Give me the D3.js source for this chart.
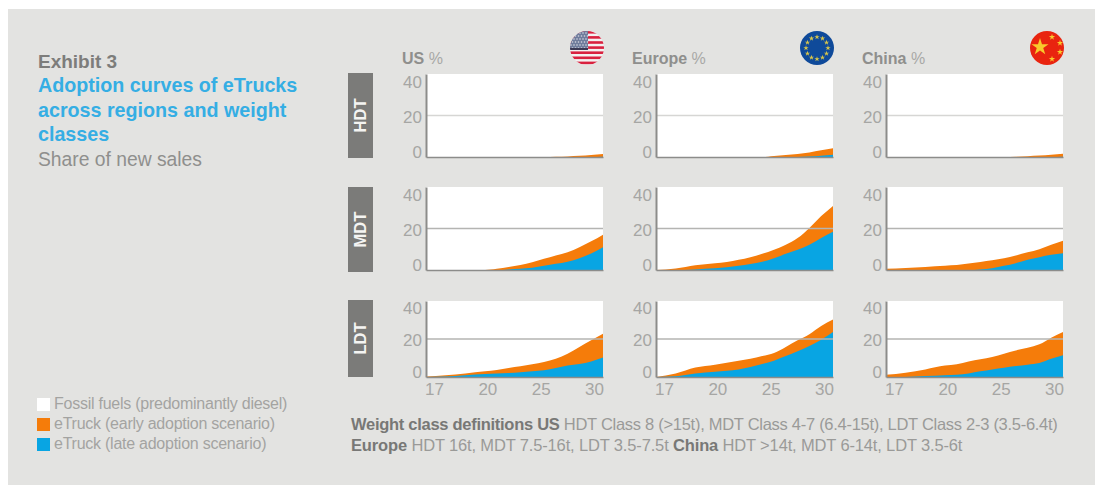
<!DOCTYPE html>
<html>
<head>
<meta charset="utf-8">
<script src="https://cdn.jsdelivr.net/npm/d3@7"></script>
<style>
  html, body { margin: 0; padding: 0; background: #ffffff; }
  svg { display: block; font-family: "Liberation Sans", Arial, sans-serif; }
</style>
</head>
<body>
<svg id="chart" width="1095" height="485"></svg>
<script>
// Sampled years, and the labels shown beneath the bottom row
const years = [17, 18, 19, 20, 21, 22, 23, 24, 25, 26, 27, 28, 29, 30];
const xTickLabels = ["17", "20", "25", "30"];
const yTicks = [0, 20, 40];
const regions = ["US", "Europe", "China"];
const weightClasses = ["HDT", "MDT", "LDT"];

// Share of new sales (%), early adoption scenario
const usHdtEarly = [0, 0, 0, 0, 0, 0, 0, 0, 0, 0.1, 0.3, 0.6, 1, 1.5];
const usMdtEarly = [0, 0, 0, 0, 0.6, 1.5, 2.4, 3.7, 5.4, 7, 8.6, 11, 13.8, 17];
const usLdtEarly = [0.3, 0.9, 1.9, 3, 3.7, 4.7, 5.6, 6.7, 7.9, 9.6, 12.3, 15.8, 19.3, 22.8];
const euHdtEarly = [0, 0, 0, 0, 0, 0, 0, 0, 0.5, 1, 1.5, 2.2, 3.2, 4.2];
const euMdtEarly = [0, 0.7, 2.3, 3.3, 3.9, 4.9, 6.2, 7.8, 9.8, 12.2, 15.4, 20.3, 26, 30.9];
const euLdtEarly = [0, 1.9, 5, 6.5, 7.5, 8.6, 9.6, 11, 12.6, 15.8, 19.3, 22.5, 26.8, 30.2];
const cnHdtEarly = [0, 0, 0, 0, 0, 0, 0, 0, 0, 0.1, 0.4, 0.7, 1.1, 1.6];
const cnMdtEarly = [0.6, 1, 1.5, 2.1, 2.4, 3.1, 3.9, 4.7, 5.7, 7, 8.5, 10, 12.2, 14.1];
const cnLdtEarly = [1.2, 2.3, 4, 6, 6.7, 8.2, 9.3, 10.5, 12.3, 14, 15.4, 17.2, 20.7, 23.7];

// Share of new sales (%), late adoption scenario
const usHdtLate = [0, 0, 0, 0, 0, 0, 0, 0, 0, 0, 0, 0, 0, 0.1];
const usMdtLate = [0, 0, 0, 0, 0, 0.3, 0.6, 1.1, 2, 3, 4, 5.7, 8, 11];
const usLdtLate = [0, 0.2, 0.9, 1.6, 1.8, 2.1, 2.5, 3, 3.5, 4.7, 6.1, 6.8, 8.2, 10.2];
const euHdtLate = [0, 0, 0, 0, 0, 0, 0, 0, 0, 0, 0, 0.2, 0.6, 1.1];
const euMdtLate = [0, 0, 0.3, 0.8, 1.3, 2, 2.9, 4, 5.7, 7.8, 9.8, 12.2, 15.4, 18.4];
const euLdtLate = [0, 0.4, 1.9, 2.8, 3.3, 4, 5.3, 6.8, 8.6, 11, 13.5, 16.3, 19.6, 23.7];
const cnHdtLate = [0, 0, 0, 0, 0, 0, 0, 0, 0, 0, 0, 0, 0, 0.1];
const cnMdtLate = [0, 0, 0, 0, 0, 0, 0.3, 0.8, 2, 3.3, 4.9, 6.2, 7.3, 8.1];
const cnLdtLate = [0, 0, 0.5, 0.9, 1.2, 1.9, 3, 4, 4.9, 5.8, 6.5, 7.4, 9.6, 11.4];

const earlySeries = [
  [usHdtEarly, euHdtEarly, cnHdtEarly],
  [usMdtEarly, euMdtEarly, cnMdtEarly],
  [usLdtEarly, euLdtEarly, cnLdtEarly]
];
const lateSeries = [
  [usHdtLate, euHdtLate, cnHdtLate],
  [usMdtLate, euMdtLate, cnMdtLate],
  [usLdtLate, euLdtLate, cnLdtLate]
];

const legendLabels = [
  "Fossil fuels (predominantly diesel)",
  "eTruck (early adoption scenario)",
  "eTruck (late adoption scenario)"
];

const colors = {
  page: "#e3e3e1", fossil: "#ffffff", early: "#f57c0a", late: "#08a5e3",
  axis: "#8c8c8a", tick: "#a6a6a4", head: "#8f8f8d", tab: "#7b7b79",
  title: "#35aee4", exhibit: "#7d7d7b", sub: "#8f8f8d", legend: "#a3a3a1", note: "#9a9a98", noteBold: "#787876"
};

const svg = d3.select("#chart");
svg.append("rect").attr("x", 8).attr("y", 9).attr("width", 1087).attr("height", 476).attr("fill", colors.page);

// Panel geometry
const colLeft = [426, 656, 886];
const panelW = 177;
const rowBox = [
  { top: 74, bottom: 157, tabTop: 73, tabBottom: 158, labelTop: 82, labelBottom: 152 },
  { top: 187, bottom: 270, tabTop: 187, tabBottom: 272, labelTop: 195, labelBottom: 265 },
  { top: 301, bottom: 377, tabTop: 300, tabBottom: 377, labelTop: 308, labelBottom: 372 }
];

// The time axis is stretched over its first three years
const x = d3.scaleLinear().domain([17, 20, 25, 30]).range([0, 59, 118, 177]);
const xLabels = d3.scalePoint().domain(xTickLabels).range([8, 168]);

weightClasses.forEach((cls, r) => {
  const box = rowBox[r];
  const tab = svg.append("g");
  tab.append("rect").attr("x", 348).attr("y", box.tabTop).attr("width", 25)
    .attr("height", box.tabBottom - box.tabTop).attr("fill", colors.tab);
  tab.append("text")
    .attr("transform", `translate(366,${(box.tabTop + box.tabBottom) / 2}) rotate(-90)`)
    .attr("text-anchor", "middle").attr("font-size", 16.5).attr("font-weight", 700)
    .attr("fill", "#f4f4f2").text(cls);

  regions.forEach((region, c) => {
    const y = d3.scaleLinear().domain([0, 40]).range([box.bottom - box.top, 0]);
    const yLabels = d3.scaleLinear().domain([0, 40]).range([box.labelBottom - box.top, box.labelTop - box.top]);
    const g = svg.append("g").attr("transform", `translate(${colLeft[c]},${box.top})`);

    g.append("rect").attr("width", panelW).attr("height", box.bottom - box.top).attr("fill", colors.fossil);

    const area = d3.area().curve(d3.curveMonotoneX).x((d, i) => x(years[i])).y0(y(0)).y1(d => y(d));
    g.append("path").datum(earlySeries[r][c]).attr("d", area).attr("fill", colors.early);
    g.append("path").datum(lateSeries[r][c]).attr("d", area).attr("fill", colors.late);

    // Gridline at 20 %
    g.append("line").attr("x1", 0).attr("x2", panelW).attr("y1", y(20)).attr("y2", y(20))
      .attr("stroke", r === 0 ? "#d6d6d4" : "#b4b4b2").attr("stroke-width", 1.3);

    // Value labels sit slightly inside the axis extent
    const labelAxis = d3.axisLeft(yLabels).tickValues(yTicks).tickSize(0).tickPadding(4);
    const yg = g.append("g").call(labelAxis);
    yg.select(".domain").remove();
    yg.selectAll("text").attr("font-size", 17).attr("font-family", "inherit").attr("fill", colors.tick);

    const axisLine = g.append("g").call(d3.axisLeft(y).tickValues([]).tickSize(0));
    axisLine.select(".domain").attr("stroke", colors.axis).attr("stroke-width", 2);
    const base = g.append("g").attr("transform", `translate(0,${y(0)})`)
      .call(d3.axisBottom(x).tickValues([]).tickSize(0));
    base.select(".domain").attr("stroke", colors.axis).attr("stroke-width", 1.5);

    if (r === 2) {
      const xg = g.append("g").attr("transform", `translate(0,${y(0)})`)
        .call(d3.axisBottom(xLabels).tickSize(0).tickPadding(6));
      xg.select(".domain").remove();
      xg.selectAll("text").attr("font-size", 17).attr("font-family", "inherit").attr("fill", colors.tick);
    }
  });
});

// Region headings
regions.forEach((region, c) => {
  const t = svg.append("text").attr("x", colLeft[c] - 24).attr("y", 64).attr("font-size", 16);
  t.append("tspan").attr("font-weight", 700).attr("fill", colors.head).text(region);
  t.append("tspan").attr("fill", "#a8a8a6").text(" %");
});

// Circular flags
const defs = svg.append("defs");
const flagCentres = [[587, 48], [817, 48], [1047, 48]];
const flagR = 17;
flagCentres.forEach((p, i) => {
  defs.append("clipPath").attr("id", `flag${i}`).append("circle").attr("cx", p[0]).attr("cy", p[1]).attr("r", flagR);
});
const starPath = size => d3.symbol().type(d3.symbolStar).size(size)();

const us = svg.append("g").attr("clip-path", "url(#flag0)");
us.append("rect").attr("x", 570).attr("y", 31).attr("width", 34).attr("height", 34).attr("fill", "#f3f1f1");
d3.range(7).forEach(i => {
  us.append("rect").attr("x", 570).attr("y", 31 + i * 5.1).attr("width", 34).attr("height", 2.6).attr("fill", "#d9213f");
});
us.append("rect").attr("x", 570).attr("y", 31).attr("width", 18).attr("height", 18).attr("fill", "#6f7c9c");
d3.range(6).forEach(i => d3.range(6).forEach(j => {
  us.append("circle").attr("cx", 571 + j * 3 + (i % 2) * 1.5).attr("cy", 33 + i * 3).attr("r", 0.8).attr("fill", "#d9dbe4");
}));
us.append("rect").attr("x", 570).attr("y", 48).attr("width", 18).attr("height", 2).attr("fill", "#3c3a55");

const eu = svg.append("g");
eu.append("circle").attr("cx", 817).attr("cy", 48).attr("r", flagR).attr("fill", "#0f4a9a");
d3.range(12).forEach(i => {
  const a = i / 12 * 2 * Math.PI;
  eu.append("path").attr("d", starPath(9))
    .attr("transform", `translate(${817 + 11 * Math.cos(a)},${48 + 11 * Math.sin(a)})`)
    .attr("fill", "#d9c64a");
});

const cn = svg.append("g");
cn.append("circle").attr("cx", 1047).attr("cy", 48).attr("r", flagR).attr("fill", "#e9240f");
cn.append("path").attr("d", starPath(90)).attr("transform", "translate(1040,47)").attr("fill", "#f8c92c");
[[1052, 37], [1060, 43], [1060, 52], [1052, 59]].forEach(s => {
  cn.append("path").attr("d", starPath(12)).attr("transform", `translate(${s[0]},${s[1]})`).attr("fill", "#f8c92c");
});

// Title block
svg.append("text").attr("x", 38).attr("y", 68).attr("font-size", 19).attr("font-weight", 700)
  .attr("fill", colors.exhibit).text("Exhibit 3");
["Adoption curves of eTrucks", "across regions and weight", "classes"].forEach((line, i) => {
  svg.append("text").attr("x", 38).attr("y", 92 + i * 24.7).attr("font-size", 19.7).attr("font-weight", 700)
    .attr("fill", colors.title).text(line);
});
svg.append("text").attr("x", 38).attr("y", 166).attr("font-size", 19.3).attr("fill", colors.sub).text("Share of new sales");

// Legend
const legendFill = [colors.fossil, colors.early, colors.late];
legendLabels.forEach((label, i) => {
  svg.append("rect").attr("x", 37).attr("y", 398 + i * 20).attr("width", 13).attr("height", 13).attr("fill", legendFill[i]);
  svg.append("text").attr("x", 54).attr("y", 409 + i * 20).attr("font-size", 16)
    .attr("letter-spacing", -0.25).attr("fill", colors.legend).text(label);
});

// Weight class footnote
const noteLines = [
  [["Weight class definitions US", true], [" HDT Class 8 (>15t), MDT Class 4-7 (6.4-15t), LDT Class 2-3 (3.5-6.4t)", false]],
  [["Europe", true], [" HDT 16t, MDT 7.5-16t, LDT 3.5-7.5t ", false], ["China", true], [" HDT >14t, MDT 6-14t, LDT 3.5-6t", false]]
];
const noteSpacing = [-0.28, -0.15];
noteLines.forEach((parts, i) => {
  const t = svg.append("text").attr("x", 351).attr("y", 430 + i * 21).attr("font-size", 16.5).attr("letter-spacing", noteSpacing[i]);
  parts.forEach(([s, bold]) => {
    t.append("tspan").attr("font-weight", bold ? 700 : 400)
      .attr("fill", bold ? colors.noteBold : colors.note).text(s);
  });
});
</script>
</body>
</html>
